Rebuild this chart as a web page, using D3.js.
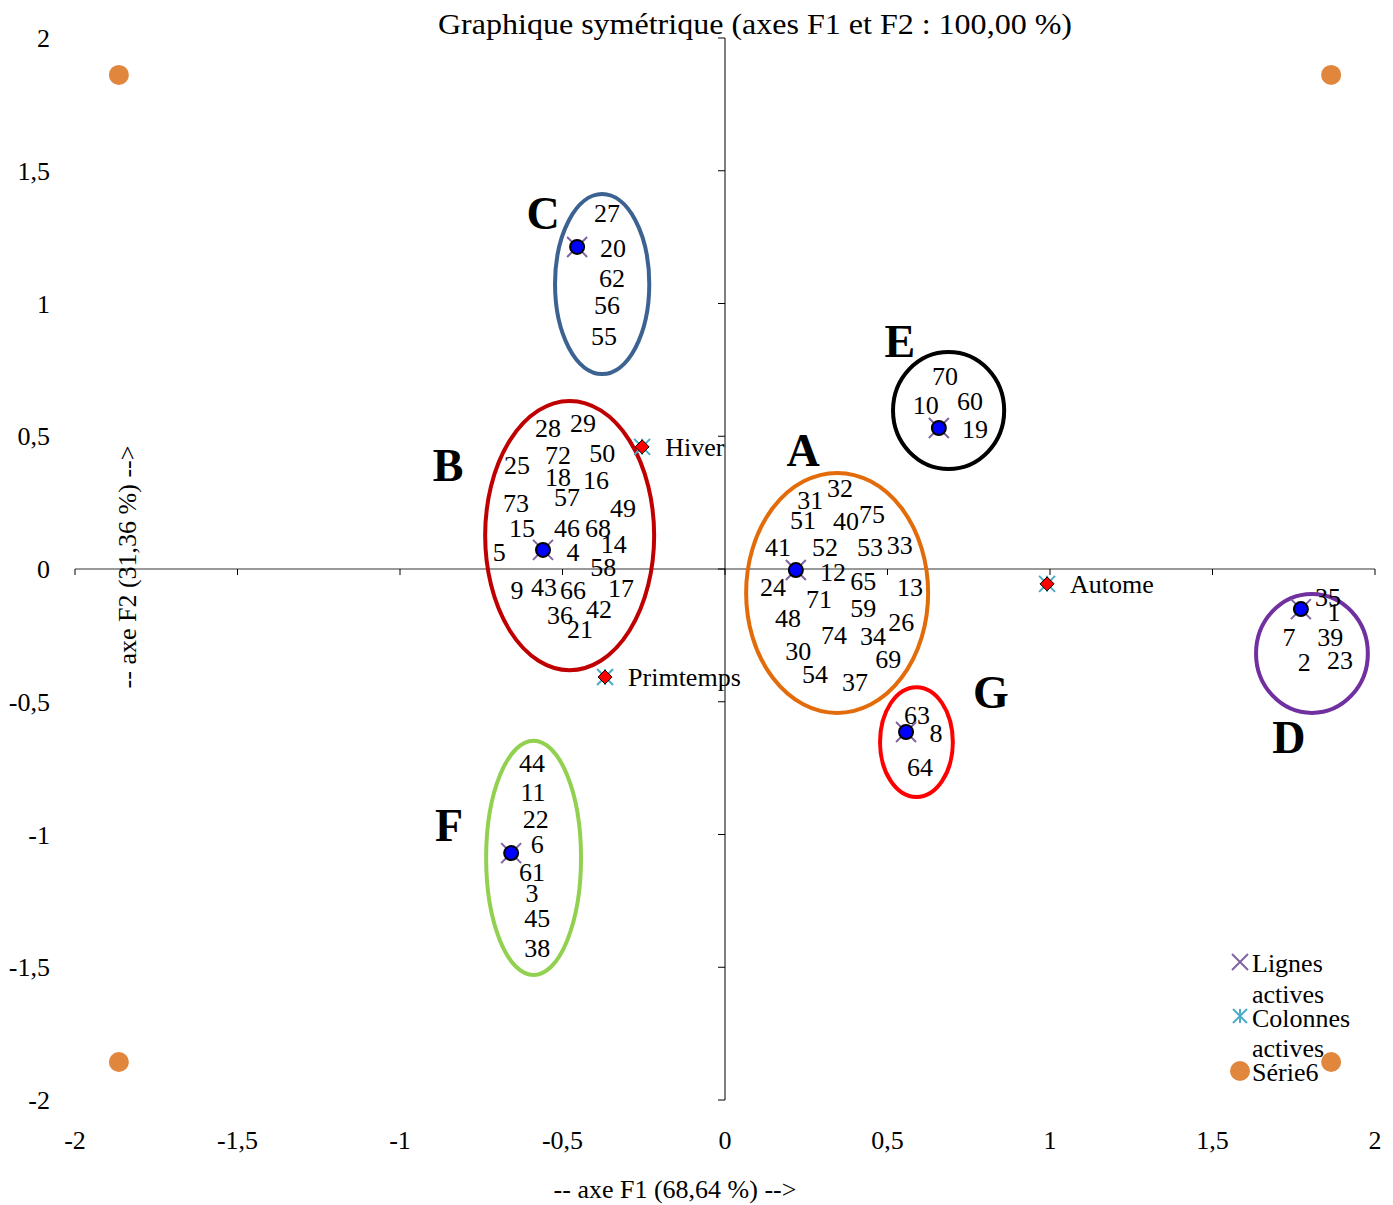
<!DOCTYPE html>
<html lang="fr">

<head>
	<meta charset="UTF-8">
	<title>Graphique symétrique</title>
	<script src="https://d3js.org/d3.v7.min.js"></script>
	<style>
		body {
			margin: 0;
			background: #fff;
		}

		text {
			font-family: "Liberation Serif", "Times New Roman", serif;
			fill: #000;
		}
	</style>
</head>

<body>
	<div id="chart"></div>
	<script>
		// axis ticks
		const xTicks = [-2, -1.5, -1, -0.5, 0, 0.5, 1, 1.5, 2];
		const yTicks = [-2, -1.5, -1, -0.5, 0, 0.5, 1, 1.5, 2];

		// Lignes actives (group centres)
		const rowNames = ["C", "B", "A", "E", "G", "D", "F"];
		const rowX = [-0.455, -0.56, 0.218, 0.658, 0.557, 1.772, -0.658];
		const rowY = [1.213, 0.072, -0.004, 0.531, -0.614, -0.151, -1.07];

		// Colonnes actives
		const colNames = ["Hiver", "Primtemps", "Autome"];
		const colX = [-0.255, -0.369, 0.991];
		const colY = [0.46, -0.407, -0.056];

		// Série6 (frame points)
		const s6X = [-1.865, 1.865, -1.865, 1.865];
		const s6Y = [1.861, 1.861, -1.857, -1.857];

		// groups : centre, radii (data units), colour
		const groupNames = ["C", "B", "A", "E", "G", "D", "F"];
		const groupCx = [-0.378, -0.478, 0.345, 0.688, 0.589, 1.806, -0.589];
		const groupCy = [1.073, 0.126, -0.09, 0.597, -0.652, -0.318, -1.088];
		const groupRx = [0.145, 0.26, 0.28, 0.171, 0.112, 0.172, 0.146];
		const groupRy = [0.339, 0.507, 0.452, 0.22, 0.207, 0.224, 0.441];
		const groupColors = ["#3C6291", "#C00000", "#E36C0A", "#000000", "#FF0000", "#7030A0", "#92D050"];
		const groupLetterX = [-0.56, -0.852, 0.24, 0.538, 0.818, 1.735, -0.849];
		const groupLetterY = [1.341, 0.392, 0.448, 0.859, -0.463, -0.633, -0.964];

		// individual labels [label, x, y]
		const labels = [
			["28", -0.545, 0.531], ["29", -0.437, 0.55], ["25", -0.64, 0.392], ["72", -0.514, 0.429],
			["50", -0.378, 0.437], ["18", -0.514, 0.347], ["16", -0.397, 0.335], ["73", -0.643, 0.249],
			["57", -0.486, 0.271], ["49", -0.314, 0.23], ["15", -0.625, 0.154], ["46", -0.486, 0.154],
			["68", -0.391, 0.154], ["14", -0.342, 0.094], ["5", -0.695, 0.064], ["4", -0.468, 0.064],
			["58", -0.375, 0.008], ["9", -0.64, -0.079], ["43", -0.557, -0.068], ["66", -0.468, -0.079],
			["17", -0.32, -0.072], ["36", -0.508, -0.173], ["42", -0.388, -0.151], ["21", -0.446, -0.226],
			["32", 0.354, 0.305], ["31", 0.262, 0.26], ["51", 0.24, 0.185], ["40", 0.372, 0.181],
			["75", 0.452, 0.207], ["41", 0.163, 0.083], ["52", 0.308, 0.083], ["53", 0.446, 0.083],
			["33", 0.538, 0.09], ["12", 0.332, -0.011], ["65", 0.425, -0.045], ["24", 0.148, -0.068],
			["13", 0.569, -0.068], ["71", 0.289, -0.113], ["59", 0.425, -0.147], ["48", 0.194, -0.185],
			["26", 0.542, -0.2], ["74", 0.335, -0.249], ["34", 0.455, -0.252], ["30", 0.225, -0.309],
			["69", 0.502, -0.339], ["54", 0.277, -0.395], ["37", 0.4, -0.426],
			["35", 1.855, -0.105], ["1", 1.874, -0.162], ["7", 1.735, -0.256], ["39", 1.862, -0.256],
			["2", 1.782, -0.35], ["23", 1.892, -0.343],
			["70", 0.677, 0.727], ["10", 0.618, 0.618], ["60", 0.754, 0.633], ["19", 0.769, 0.527],
			["44", -0.594, -0.731], ["11", -0.591, -0.84], ["22", -0.582, -0.942], ["6", -0.578, -1.036],
			["61", -0.594, -1.141], ["3", -0.594, -1.22], ["45", -0.578, -1.315], ["38", -0.578, -1.427],
			["27", -0.363, 1.341], ["20", -0.345, 1.209], ["62", -0.348, 1.096], ["56", -0.363, 0.994],
			["55", -0.372, 0.878],
			["63", 0.591, -0.55], ["8", 0.649, -0.618], ["64", 0.6, -0.746]
		];

		const width = 1393;
		const height = 1205;
		const fs = "26px";

		const svg = d3.select("#chart")
			.append("svg")
			.attr("width", width)
			.attr("height", height);

		const x = d3.scaleLinear().domain([-2, 2]).range([75, 1375]);
		const y = d3.scaleLinear().domain([-2, 2]).range([1100, 38]);
		const fmt = d => String(d).replace(".", ",");

		// title
		svg.append("text")
			.attr("x", 755)
			.attr("y", 34)
			.attr("text-anchor", "middle")
			.style("font-size", "30px")
			.attr("textLength", 634)
			.attr("lengthAdjust", "spacingAndGlyphs")
			.text("Graphique symétrique (axes F1 et F2 : 100,00 %)");

		// horizontal axis through 0
		const xAxis = svg.append("g").attr("transform", `translate(0,${y(0)})`);
		xAxis.append("line")
			.attr("x1", x(-2)).attr("x2", x(2))
			.attr("stroke", "#777").attr("stroke-width", 1.5);
		xAxis.selectAll(".tick")
			.data(xTicks)
			.enter().append("line")
			.attr("x1", d => x(d)).attr("x2", d => x(d))
			.attr("y1", 0).attr("y2", 6)
			.attr("stroke", "#000");

		// vertical axis through 0
		const yAxis = svg.append("g").attr("transform", `translate(${x(0)},0)`);
		yAxis.append("line")
			.attr("y1", y(2)).attr("y2", y(-2))
			.attr("stroke", "#000").attr("stroke-width", 1);
		yAxis.selectAll(".tick")
			.data(yTicks)
			.enter().append("line")
			.attr("y1", d => y(d)).attr("y2", d => y(d))
			.attr("x1", -7).attr("x2", 0)
			.attr("stroke", "#000");

		// tick labels at the chart edges
		svg.selectAll(".xlab")
			.data(xTicks)
			.enter().append("text")
			.attr("x", d => x(d))
			.attr("y", 1149)
			.attr("text-anchor", "middle")
			.style("font-size", fs)
			.text(fmt);

		svg.selectAll(".ylab")
			.data(yTicks)
			.enter().append("text")
			.attr("x", 50)
			.attr("y", d => y(d) + 9)
			.attr("text-anchor", "end")
			.style("font-size", fs)
			.text(fmt);

		// axis titles
		svg.append("text")
			.attr("x", 675)
			.attr("y", 1198)
			.attr("text-anchor", "middle")
			.style("font-size", fs)
			.text("-- axe F1 (68,64 %) -->");

		svg.append("text")
			.attr("transform", "translate(136,567) rotate(-90)")
			.attr("text-anchor", "middle")
			.style("font-size", fs)
			.text("-- axe F2 (31,36 %) -->");

		// group ellipses
		svg.selectAll(".group")
			.data(groupNames)
			.enter().append("ellipse")
			.attr("cx", (d, i) => x(groupCx[i]))
			.attr("cy", (d, i) => y(groupCy[i]))
			.attr("rx", (d, i) => x(groupRx[i]) - x(0))
			.attr("ry", (d, i) => y(0) - y(groupRy[i]))
			.attr("fill", "none")
			.attr("stroke", (d, i) => groupColors[i])
			.attr("stroke-width", 4);

		svg.selectAll(".letter")
			.data(groupNames)
			.enter().append("text")
			.attr("x", (d, i) => x(groupLetterX[i]))
			.attr("y", (d, i) => y(groupLetterY[i]))
			.attr("dy", "0.35em")
			.attr("text-anchor", "middle")
			.style("font-size", "46px")
			.style("font-weight", "bold")
			.text(d => d);

		// individual labels
		svg.selectAll(".lab")
			.data(labels)
			.enter().append("text")
			.attr("x", d => x(d[1]))
			.attr("y", d => y(d[2]))
			.attr("dy", "0.35em")
			.attr("text-anchor", "middle")
			.style("font-size", fs)
			.text(d => d[0]);

		// Colonnes actives : teal asterisk + red diamond
		function asterisk(g, s) {
			g.append("path")
				.attr("d", `M${-s},${-s}L${s},${s}M${-s},${s}L${s},${-s}M0,${-s}L0,${s}`)
				.attr("stroke", "#4BACC6").attr("stroke-width", 2).attr("fill", "none");
		}
		const cols = svg.selectAll(".col")
			.data(colNames)
			.enter().append("g")
			.attr("transform", (d, i) => `translate(${x(colX[i])},${y(colY[i])})`);
		cols.each(function () { asterisk(d3.select(this), 8); });
		cols.append("path")
			.attr("d", "M0,-7L7,0L0,7L-7,0Z")
			.attr("fill", "#FF0000").attr("stroke", "#000").attr("stroke-width", 1);
		cols.append("text")
			.attr("x", 23)
			.attr("dy", "0.35em")
			.style("font-size", fs)
			.text(d => d);

		// Lignes actives : purple cross + blue dot
		const rows = svg.selectAll(".row")
			.data(rowNames)
			.enter().append("g")
			.attr("transform", (d, i) => `translate(${x(rowX[i])},${y(rowY[i])})`);
		rows.append("path")
			.attr("d", "M-10,-10L10,10M-10,10L10,-10")
			.attr("stroke", "#8064A2").attr("stroke-width", 2);
		rows.append("circle")
			.attr("r", 7)
			.attr("fill", "#0000FF").attr("stroke", "#000").attr("stroke-width", 2);

		// Série6
		svg.selectAll(".s6")
			.data(s6X)
			.enter().append("circle")
			.attr("cx", d => x(d))
			.attr("cy", (d, i) => y(s6Y[i]))
			.attr("r", 10)
			.attr("fill", "#E0873D");

		// legend
		const legend = svg.append("g").attr("transform", "translate(1240,0)");
		legend.append("path")
			.attr("d", "M-8,954L8,970M-8,970L8,954")
			.attr("stroke", "#8064A2").attr("stroke-width", 2);
		legend.append("g").attr("transform", "translate(0,1016)")
			.call(g => asterisk(g, 7));
		legend.append("circle")
			.attr("cx", 0).attr("cy", 1071).attr("r", 10)
			.attr("fill", "#E0873D");
		const legendText = [["Lignes", 972], ["actives", 1003], ["Colonnes", 1027], ["actives", 1057], ["Série6", 1081]];
		legend.selectAll(".lt")
			.data(legendText)
			.enter().append("text")
			.attr("x", 12)
			.attr("y", d => d[1])
			.style("font-size", fs)
			.text(d => d[0]);
	</script>

</body>

</html>
